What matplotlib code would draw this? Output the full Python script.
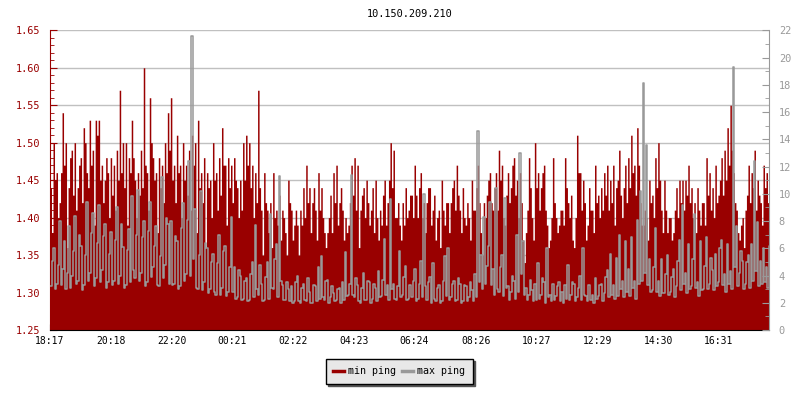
import numpy as np
import matplotlib
matplotlib.use('Agg')
import matplotlib.pyplot as plt
from matplotlib.lines import Line2D
from matplotlib.ticker import MultipleLocator, FormatStrFormatter

# host name shown as title
title = '10.150.209.210'

# x tick labels (clock times)
time_labels = ['18:17', '20:18', '22:20', '00:21', '02:22', '04:23',
               '06:24', '08:26', '10:27', '12:29', '14:30', '16:31']

# sample interval in minutes
step_min = 3

# min ping (left axis), one value per 3 minutes, 40 per row (~2 h)
min_ping = [
    1.44, 1.38, 1.50, 1.45, 1.46, 1.40, 1.42, 1.46, 1.54, 1.47, 1.50, 1.36, 1.44, 1.48, 1.49, 1.43, 1.50, 1.41, 1.44, 1.47,
    1.48, 1.42, 1.52, 1.50, 1.46, 1.44, 1.53, 1.47, 1.49, 1.39, 1.53, 1.51, 1.53, 1.45, 1.47, 1.42, 1.45, 1.48, 1.46, 1.40,
    1.48, 1.43, 1.47, 1.41, 1.49, 1.45, 1.57, 1.46, 1.50, 1.44, 1.50, 1.39, 1.48, 1.46, 1.53, 1.48, 1.45, 1.40, 1.46, 1.43,
    1.49, 1.44, 1.60, 1.47, 1.46, 1.41, 1.56, 1.50, 1.48, 1.45, 1.46, 1.38, 1.48, 1.44, 1.47, 1.42, 1.50, 1.46, 1.54, 1.49,
    1.56, 1.45, 1.47, 1.42, 1.51, 1.46, 1.47, 1.40, 1.50, 1.45, 1.47, 1.43, 1.49, 1.41, 1.51, 1.47, 1.50, 1.38, 1.53, 1.44,
    1.46, 1.42, 1.48, 1.36, 1.46, 1.44, 1.45, 1.40, 1.50, 1.45, 1.46, 1.41, 1.48, 1.43, 1.52, 1.47, 1.47, 1.39, 1.48, 1.44,
    1.47, 1.42, 1.48, 1.45, 1.44, 1.40, 1.45, 1.41, 1.50, 1.45, 1.51, 1.47, 1.50, 1.44, 1.47, 1.40, 1.46, 1.42, 1.57, 1.44,
    1.41, 1.35, 1.46, 1.42, 1.41, 1.38, 1.42, 1.36, 1.46, 1.40, 1.41, 1.39, 1.43, 1.37, 1.41, 1.40, 1.38, 1.35, 1.45, 1.42,
    1.41, 1.37, 1.39, 1.41, 1.39, 1.35, 1.41, 1.39, 1.44, 1.40, 1.47, 1.42, 1.44, 1.38, 1.42, 1.44, 1.41, 1.37, 1.46, 1.41,
    1.44, 1.40, 1.38, 1.36, 1.38, 1.40, 1.43, 1.38, 1.46, 1.42, 1.47, 1.39, 1.42, 1.44, 1.41, 1.37, 1.40, 1.38, 1.39, 1.42,
    1.47, 1.43, 1.48, 1.41, 1.47, 1.36, 1.41, 1.43, 1.44, 1.40, 1.45, 1.42, 1.39, 1.41, 1.44, 1.38, 1.45, 1.40, 1.37, 1.41,
    1.39, 1.43, 1.45, 1.39, 1.42, 1.45, 1.50, 1.44, 1.49, 1.40, 1.40, 1.42, 1.39, 1.37, 1.42, 1.39, 1.44, 1.40, 1.41, 1.43,
    1.43, 1.40, 1.47, 1.43, 1.40, 1.44, 1.46, 1.40, 1.42, 1.38, 1.42, 1.44, 1.44, 1.39, 1.41, 1.43, 1.37, 1.40, 1.41, 1.36,
    1.45, 1.41, 1.39, 1.42, 1.42, 1.38, 1.42, 1.44, 1.45, 1.41, 1.47, 1.43, 1.41, 1.38, 1.44, 1.40, 1.39, 1.42, 1.40, 1.37,
    1.45, 1.41, 1.41, 1.44, 1.47, 1.42, 1.38, 1.35, 1.42, 1.40, 1.43, 1.45, 1.46, 1.42, 1.41, 1.44, 1.46, 1.41, 1.49, 1.45,
    1.47, 1.40, 1.39, 1.43, 1.46, 1.42, 1.44, 1.47, 1.48, 1.43, 1.45, 1.40, 1.46, 1.42, 1.37, 1.34, 1.38, 1.41, 1.48, 1.44,
    1.40, 1.37, 1.50, 1.44, 1.46, 1.41, 1.44, 1.46, 1.47, 1.41, 1.39, 1.36, 1.37, 1.40, 1.48, 1.42, 1.40, 1.38, 1.39, 1.41,
    1.41, 1.39, 1.48, 1.44, 1.42, 1.40, 1.43, 1.37, 1.36, 1.40, 1.51, 1.46, 1.46, 1.41, 1.45, 1.42, 1.37, 1.39, 1.44, 1.41,
    1.41, 1.38, 1.47, 1.42, 1.43, 1.40, 1.44, 1.41, 1.46, 1.43, 1.47, 1.41, 1.45, 1.42, 1.47, 1.39, 1.44, 1.45, 1.49, 1.43,
    1.40, 1.44, 1.47, 1.42, 1.48, 1.44, 1.51, 1.46, 1.47, 1.43, 1.52, 1.47, 1.42, 1.39, 1.39, 1.41, 1.40, 1.37, 1.45, 1.42,
    1.43, 1.40, 1.48, 1.44, 1.50, 1.45, 1.41, 1.38, 1.45, 1.41, 1.38, 1.40, 1.40, 1.37, 1.38, 1.41, 1.44, 1.40, 1.45, 1.42,
    1.45, 1.41, 1.45, 1.43, 1.47, 1.42, 1.44, 1.40, 1.42, 1.38, 1.44, 1.41, 1.39, 1.42, 1.42, 1.39, 1.48, 1.43, 1.46, 1.41,
    1.44, 1.40, 1.47, 1.42, 1.43, 1.45, 1.48, 1.43, 1.49, 1.45, 1.52, 1.47, 1.55, 1.49, 1.46, 1.42, 1.41, 1.38, 1.37, 1.39,
    1.40, 1.36, 1.41, 1.43, 1.47, 1.42, 1.46, 1.44, 1.49, 1.41, 1.45, 1.43, 1.42, 1.39, 1.47, 1.44, 1.46, 1.42, 1.47, 1.45,
]

# max ping (right axis), same sampling
max_ping = [
    3.2, 5.1, 6.0, 3.0, 3.4, 4.8, 8.0, 3.3, 4.5, 6.5, 3.0, 4.2, 7.6, 3.1, 4.0, 5.8, 8.4, 3.4, 3.6, 7.0,
    6.2, 2.9, 3.3, 5.5, 9.4, 3.6, 4.2, 7.1, 8.6, 3.2, 3.8, 6.4, 9.2, 3.5, 4.4, 6.9, 7.8, 3.1, 3.5, 5.6,
    7.2, 3.3, 3.6, 6.6, 9.0, 3.4, 4.0, 7.8, 6.1, 3.1, 3.3, 5.9, 7.4, 3.5, 9.8, 4.4, 3.8, 7.0, 10.3, 3.6,
    4.2, 6.8, 8.0, 3.2, 3.5, 7.3, 9.4, 3.9, 4.6, 6.2, 7.6, 3.3, 3.2, 5.4, 11.2, 3.8, 4.8, 8.2, 7.8, 3.4,
    8.0, 3.3, 3.4, 6.9, 6.5, 3.0, 3.2, 7.5, 9.3, 3.6, 4.1, 8.1, 12.4, 4.0, 21.6, 5.2, 8.9, 3.1, 3.0, 5.5,
    10.2, 2.9, 3.5, 6.4, 6.0, 2.7, 3.0, 5.0, 5.6, 2.8, 2.6, 4.9, 7.0, 2.6, 3.1, 5.8, 6.2, 2.5, 2.8, 4.6,
    8.3, 2.8, 4.6, 2.3, 2.4, 4.4, 4.0, 2.2, 2.3, 3.6, 3.8, 2.1, 2.2, 4.1, 5.0, 2.4, 7.7, 3.0, 2.6, 4.8,
    3.4, 2.1, 2.2, 3.9, 5.0, 2.3, 8.5, 3.1, 3.0, 5.2, 6.3, 2.4, 11.3, 3.6, 3.3, 2.2, 2.2, 3.5, 3.0, 2.1,
    3.2, 2.0, 2.1, 3.5, 4.0, 2.1, 2.0, 3.1, 3.4, 2.2, 2.1, 3.8, 2.8, 2.0, 2.0, 3.3, 3.2, 2.1, 4.6, 2.3,
    5.4, 2.4, 2.2, 3.6, 3.7, 2.0, 2.4, 3.2, 2.7, 2.1, 2.2, 3.0, 3.1, 2.0, 3.5, 2.2, 5.7, 2.5, 2.6, 3.4,
    11.4, 2.6, 2.4, 3.8, 3.3, 2.1, 2.0, 3.1, 4.2, 2.2, 2.2, 3.6, 3.5, 2.0, 2.3, 3.4, 3.1, 2.1, 4.3, 2.4,
    2.5, 3.7, 6.7, 2.6, 3.3, 2.2, 9.6, 3.0, 3.4, 2.3, 2.2, 3.2, 5.8, 2.4, 2.6, 3.9, 4.7, 2.2, 2.3, 3.3,
    2.4, 3.6, 4.5, 2.1, 2.3, 3.4, 5.1, 2.4, 10.0, 3.2, 2.2, 3.5, 3.9, 2.0, 4.9, 2.3, 2.1, 3.1, 3.3, 2.0,
    2.1, 3.6, 5.4, 2.5, 6.0, 2.2, 2.4, 3.4, 3.6, 2.1, 2.2, 3.8, 3.4, 2.0, 2.1, 3.3, 3.2, 2.1, 2.4, 3.5,
    2.9, 2.1, 4.1, 2.4, 14.6, 3.5, 5.5, 3.0, 8.3, 3.4, 4.7, 6.2, 9.4, 3.3, 4.5, 2.6, 10.4, 3.0, 2.8, 4.6,
    5.5, 2.5, 9.7, 3.1, 3.2, 2.2, 2.8, 4.0, 3.6, 2.3, 7.0, 2.8, 13.0, 4.1, 6.5, 2.6, 3.1, 2.2, 2.6, 3.7,
    2.9, 2.1, 3.4, 2.2, 4.9, 2.3, 2.6, 3.8, 3.5, 2.0, 6.0, 2.4, 2.6, 2.1, 3.4, 2.2, 2.5, 3.2, 3.5, 2.1,
    2.8, 2.0, 3.3, 2.3, 4.8, 2.2, 2.6, 3.5, 3.4, 2.1, 2.4, 3.1, 4.0, 2.2, 6.0, 2.6, 2.5, 2.1, 3.3, 2.2,
    2.6, 2.0, 3.8, 2.3, 2.5, 3.3, 3.4, 2.1, 2.7, 3.9, 4.4, 2.4, 5.6, 2.6, 3.3, 2.3, 5.3, 2.5, 7.0, 3.0,
    3.6, 2.4, 6.5, 2.8, 4.5, 2.5, 6.8, 3.1, 3.6, 2.3, 8.1, 3.4, 10.2, 3.6, 18.1, 4.2, 13.6, 3.3, 5.2, 2.8,
    2.9, 4.6, 7.5, 2.8, 3.6, 2.5, 5.2, 2.7, 2.7, 4.1, 5.5, 2.6, 2.8, 3.9, 4.5, 2.4, 3.2, 5.1, 6.6, 2.9,
    9.2, 3.4, 4.2, 2.7, 6.3, 3.0, 3.2, 5.2, 8.5, 3.1, 3.5, 2.5, 6.5, 2.9, 3.0, 4.7, 6.8, 3.0, 3.4, 5.3,
    4.4, 2.9, 5.6, 3.2, 3.5, 6.0, 6.6, 3.3, 4.1, 2.8, 6.3, 3.4, 4.3, 3.0, 19.3, 4.6, 7.6, 3.2, 4.2, 5.8,
    5.1, 3.0, 3.4, 5.0, 5.5, 3.1, 6.3, 3.6, 12.4, 4.3, 7.9, 3.2, 5.1, 3.4, 6.0, 3.5, 4.6, 3.1, 6.2, 3.9,
]

red = '#990000'
grey = '#999999'
plt.rcParams['font.family'] = 'DejaVu Sans Mono'

# minutes since the first label
x_min = np.arange(len(min_ping) + 1) * step_min
x_max = np.arange(len(max_ping) + 1) * step_min
mins = []
for t in time_labels:
    h, m = map(int, t.split(':'))
    v = h * 60 + m - (18 * 60 + 17)
    if v < 0:
        v += 24 * 60
    mins.append(v)

fig = plt.figure(figsize=(8, 4), dpi=100)
ax = fig.add_axes([50 / 800, 70 / 400, 719 / 800, 299.7 / 400])
ax2 = ax.twinx()

ax.fill_between(x_min, 1.25, min_ping + [min_ping[-1]], step='post', color=red, lw=0)
ax2.step(x_max, max_ping + [max_ping[-1]], where='post', color=grey, lw=1.1)

ax.set_xlim(0, 1434)
ax.set_ylim(1.25, 1.65)
ax2.set_ylim(0, 22)

ax.yaxis.set_major_locator(MultipleLocator(0.05))
ax.yaxis.set_minor_locator(MultipleLocator(0.01))
ax.yaxis.set_major_formatter(FormatStrFormatter('%.2f'))
ax2.yaxis.set_major_locator(MultipleLocator(2))
ax2.yaxis.set_minor_locator(MultipleLocator(1))

ax.set_xticks(mins)
ax.set_xticklabels(time_labels)

ax.set_axisbelow(True)
ax.grid(True, axis='y', color='#c0c0c0', lw=1)

ax.tick_params(axis='y', which='both', direction='in', colors=red, labelsize=7.4, pad=7)
ax.tick_params(axis='y', which='major', length=5)
ax.tick_params(axis='y', which='minor', length=3)
ax.tick_params(axis='x', direction='in', length=4, colors='black', labelsize=7.0, pad=4)
ax2.tick_params(axis='y', which='both', direction='in', colors=grey, labelsize=7.4, pad=7)
ax2.tick_params(axis='y', which='major', length=5)
ax2.tick_params(axis='y', which='minor', length=3)

for s in ['top', 'right']:
    ax.spines[s].set_visible(False)
for s in ['top', 'left', 'bottom']:
    ax2.spines[s].set_visible(False)
ax.spines['left'].set_color(red)
ax.spines['bottom'].set_color('black')
ax2.spines['right'].set_color(grey)

fig.text(409.5 / 800, 1 - 14 / 400, title, ha='center', va='center', fontsize=7.4)

handles = [Line2D([], [], color=red, lw=2.5), Line2D([], [], color=grey, lw=2.5)]
leg = fig.legend(handles, ['min ping', 'max ping'], loc='center',
                 bbox_to_anchor=(399 / 800, 1 - 371 / 400), ncol=2,
                 fontsize=7.2, handlelength=1.1, handletextpad=0.4,
                 columnspacing=0.6, borderpad=0.75, fancybox=False,
                 frameon=True, framealpha=1, facecolor='#e8e8e8',
                 edgecolor='black', shadow={'color': '#555555', 'alpha': 1})
leg.get_frame().set_linewidth(1)

plt.savefig('out.png', dpi=100)
